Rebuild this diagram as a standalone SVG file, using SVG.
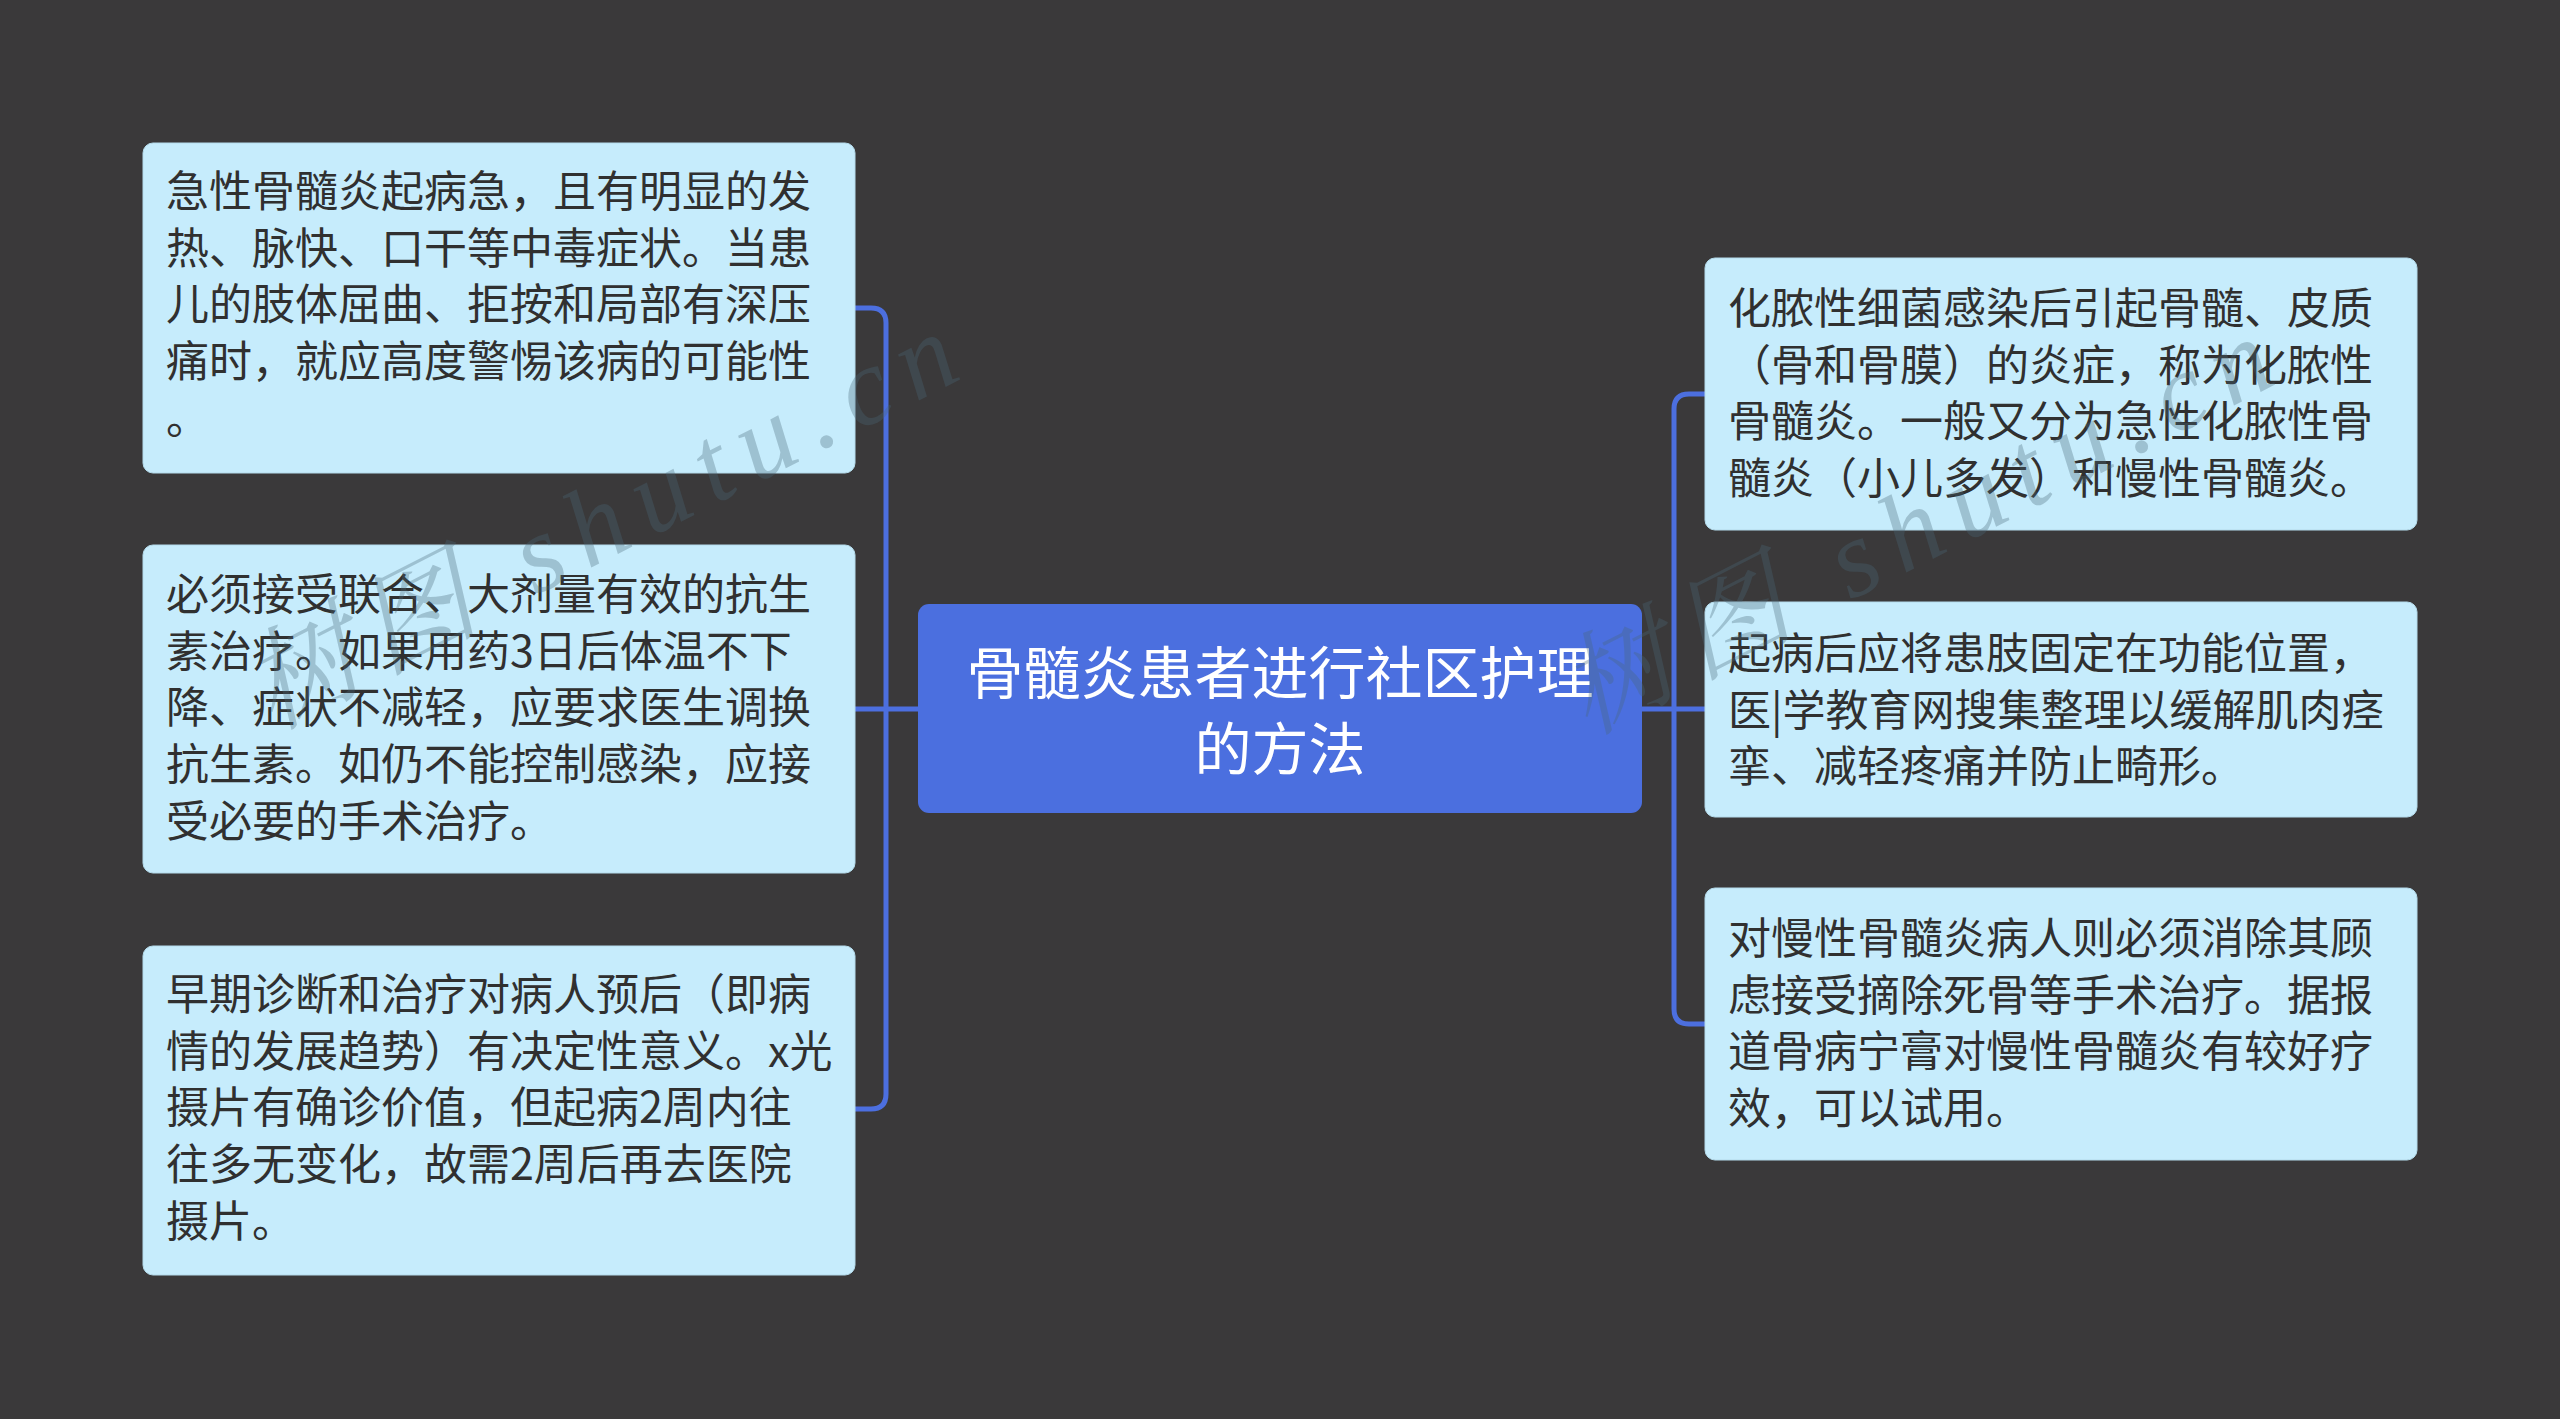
<svg xmlns="http://www.w3.org/2000/svg" width="2560" height="1419" viewBox="0 0 2560 1419">
<style>
.bg{fill:#3a393a}
.leaf{fill:#c6ecfc;stroke:#b4dbeb;stroke-width:1}
.root{fill:#4b6fdf}
.lt{font-family:"Noto Sans CJK SC","Noto Sans",sans-serif;font-size:43px;fill:#303030}
.rt{font-family:"Noto Sans CJK SC","Noto Sans",sans-serif;font-size:57px;fill:#ffffff;text-anchor:middle}
.conn{fill:none;stroke:#4c6fdf;stroke-width:5;stroke-linecap:round;stroke-linejoin:round}
.wm{font-family:"Liberation Serif","Noto Serif CJK SC","Noto Sans CJK SC",serif;font-style:italic;font-size:110px;letter-spacing:16px;fill:#4a6878;opacity:0.32}
</style>
<rect class="bg" x="0" y="0" width="2560" height="1419"/>
<g id="connectors">
<path class="conn" d="M855,308 H871 Q886,308 886,323 V1094 Q886,1109 871,1109 H855"/>
<path class="conn" d="M918,709 H855"/>
<path class="conn" d="M1705,394 H1689 Q1674,394 1674,409 V1009 Q1674,1024 1689,1024 H1705"/>
<path class="conn" d="M1642,709 H1705"/>
</g>
<g id="root">
<rect class="root" x="918" y="604" width="724" height="209" rx="11"/>
<text class="rt" x="1280" y="694">骨髓炎患者进行社区护理<tspan x="1280" dy="76">的方法</tspan></text>
</g>
<g id="left1">
<rect class="leaf" x="143" y="143" width="712" height="330" rx="10"/>
<text class="lt" x="166" y="207">急性骨髓炎起病急，且有明显的发<tspan x="166" dy="56.7">热、脉快、口干等中毒症状。当患</tspan><tspan x="166" dy="56.7">儿的肢体屈曲、拒按和局部有深压</tspan><tspan x="166" dy="56.7">痛时，就应高度警惕该病的可能性</tspan><tspan x="166" dy="56.7">。</tspan></text>
</g>
<g id="left2">
<rect class="leaf" x="143" y="545" width="712" height="328" rx="10"/>
<text class="lt" x="166" y="610">必须接受联合、大剂量有效的抗生<tspan x="166" dy="56.7">素治疗。如果用药3日后体温不下</tspan><tspan x="166" dy="56.7">降、症状不减轻，应要求医生调换</tspan><tspan x="166" dy="56.7">抗生素。如仍不能控制感染，应接</tspan><tspan x="166" dy="56.7">受必要的手术治疗。</tspan></text>
</g>
<g id="left3">
<rect class="leaf" x="143" y="946" width="712" height="329" rx="10"/>
<text class="lt" x="166" y="1010">早期诊断和治疗对病人预后（即病<tspan x="166" dy="56.7">情的发展趋势）有决定性意义。x光</tspan><tspan x="166" dy="56.7">摄片有确诊价值，但起病2周内往</tspan><tspan x="166" dy="56.7">往多无变化，故需2周后再去医院</tspan><tspan x="166" dy="56.7">摄片。</tspan></text>
</g>
<g id="right1">
<rect class="leaf" x="1705" y="258" width="712" height="272" rx="10"/>
<text class="lt" x="1728" y="324">化脓性细菌感染后引起骨髓、皮质<tspan x="1728" dy="56.7">（骨和骨膜）的炎症，称为化脓性</tspan><tspan x="1728" dy="56.7">骨髓炎。一般又分为急性化脓性骨</tspan><tspan x="1728" dy="56.7">髓炎（小儿多发）和慢性骨髓炎。</tspan></text>
</g>
<g id="right2">
<rect class="leaf" x="1705" y="602" width="712" height="215" rx="10"/>
<text class="lt" x="1728" y="669">起病后应将患肢固定在功能位置，<tspan x="1728" dy="56.7">医|学教育网搜集整理以缓解肌肉痉</tspan><tspan x="1728" dy="56.7">挛、减轻疼痛并防止畸形。</tspan></text>
</g>
<g id="right3">
<rect class="leaf" x="1705" y="888" width="712" height="272" rx="10"/>
<text class="lt" x="1728" y="954">对慢性骨髓炎病人则必须消除其顾<tspan x="1728" dy="56.7">虑接受摘除死骨等手术治疗。据报</tspan><tspan x="1728" dy="56.7">道骨病宁膏对慢性骨髓炎有较好疗</tspan><tspan x="1728" dy="56.7">效，可以试用。</tspan></text>
</g>
<g id="watermark">
<text class="wm" transform="translate(272,730) rotate(-27)">树图 shutu.cn</text>
<text class="wm" transform="translate(1587,735) rotate(-27)">树图 shutu.cn</text>
</g>
</svg>
